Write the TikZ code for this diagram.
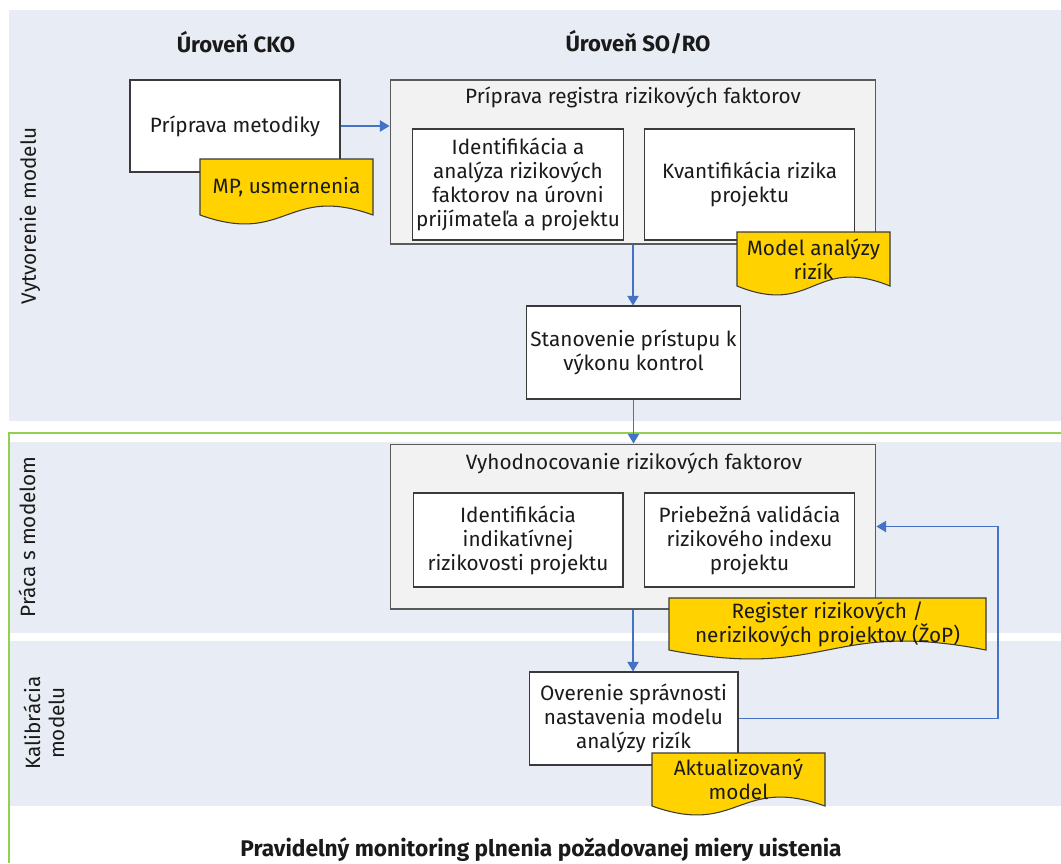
\documentclass[tikz,border=0pt]{standalone}
\usepackage{fontspec}
\setmainfont{Fira Sans}
\usetikzlibrary{arrows.meta}

% document shape: name, x1, y1, x2, y2, text
\newcommand{\dokument}[6]{%
    \pgfmathsetmacro{\xm}{(#2+#4)/2}%
    \pgfmathsetmacro{\yb}{#5-9}%
    \filldraw[doc] (#2,#3) -- (#4,#3) -- (#4,\yb)
        .. controls (\xm,\yb-31) and (\xm,\yb+31) .. (#2,\yb) -- cycle;
    \node[doctext] (#1) at (\xm,{(#3+\yb)/2}) {#6};
}

\begin{document}
\begin{tikzpicture}[x=0.02cm, y=-0.02cm,
    %Option for nice arrows
    >={Triangle[width=6.5pt,length=5.5pt]}, %
    font=\fontsize{11.8}{13.7}\selectfont,
    band/.style={fill=bandblue, draw=none},
    box/.style={draw=boxgray, line width=0.6pt, fill=white, align=center,
        minimum width=4.2cm, inner sep=2pt, text=textblack},
    frame/.style={draw=framegray, line width=0.6pt, fill=framefill,
        minimum width=9.72cm},
    doc/.style={fill=docyellow, draw=boxgray, line width=0.6pt},
    doctext/.style={align=center, text=textblack, inner sep=1pt},
    flow/.style={->, draw=flowblue, line width=0.6pt},
    lane/.style={rotate=90, align=center, text=textblack},
    head/.style={font=\fontsize{12.6}{15}\selectfont\bfseries, text=textblack},
]
    % Colors
    \definecolor{bandblue}{HTML}{E8ECF4}
    \definecolor{docyellow}{HTML}{FFD200}
    \definecolor{framefill}{HTML}{F2F2F2}
    \definecolor{framegray}{HTML}{5A5A5A}
    \definecolor{boxgray}{HTML}{3A3A3A}
    \definecolor{flowblue}{HTML}{4472C4}
    \definecolor{greenline}{HTML}{92D050}
    \definecolor{textblack}{HTML}{1A1A1A}

    \useasboundingbox (0,0) rectangle (1061,863);

    % Bands
    \fill[band] (9,10)  rectangle (1061,421);
    \fill[band] (9,442) rectangle (1061,633);
    \fill[band] (9,641) rectangle (1061,806);
    \draw[greenline, line width=1.5pt] (1061,433) -- (9,433) -- (9,863);

    % Lane labels
    \node[lane] (lane1) at (30,216) {Vytvorenie modelu};
    \node[lane] (lane2) at (27,537) {Práca s modelom};
    \node[lane] (lane3) at (44,723) {Kalibrácia\\modelu};

    % Headers
    \node[head] (cko)  at (236,42) {Úroveň CKO};
    \node[head] (soro) at (638,42) {Úroveň SO/RO};

    % Level CKO
    \node[box, minimum height=1.84cm] (metodika) at (235,126) {Príprava metodiky};
    \dokument{mp}{200}{159}{373}{224}{MP, usmernenia}

    % Register preparation
    \node[frame, minimum height=3.28cm] (registra) at (633,162) {};
    \node[text=textblack] (registratitle) at (633,97) {Príprava registra rizikových faktorov};
    \node[box, minimum height=2.22cm] (identifikacia) at (518,184.5)
        {Identifikácia a\\analýza rizikových\\faktorov na úrovni\\prijímateľa a projektu};
    \node[box, minimum height=2.22cm] (kvantifikacia) at (749.5,184.5)
        {Kvantifikácia rizika\\projektu};
    \dokument{model}{737}{232}{890}{295}{Model analýzy\\rizík}

    \node[box, minimum width=4.18cm, minimum height=1.86cm] (stanovenie) at (633.5,352.5)
        {Stanovenie prístupu k\\výkonu kontrol};

    % Evaluation
    \node[frame, minimum height=3.3cm] (vyhod) at (633,526.5) {};
    \node[text=textblack] (vyhodtitle) at (634,463) {Vyhodnocovanie rizikových faktorov};
    \node[box, minimum height=1.88cm] (indikativna) at (518,540)
        {Identifikácia\\indikatívnej\\rizikovosti projektu};
    \node[box, minimum height=1.88cm] (validacia) at (749.5,540)
        {Priebežná validácia\\rizikového indexu\\projektu};
    \dokument{register}{669}{598}{986}{659}{Register rizikových /\\nerizikových projektov (ŽoP)}

    % Calibration
    \node[box, minimum width=4.18cm, minimum height=1.86cm] (overenie) at (633.5,718.5)
        {Overenie správnosti\\nastavenia modelu\\analýzy rizík};
    \dokument{aktual}{652}{753}{825}{815}{Aktualizovaný\\model}

    % Flows
    \draw[flow] (metodika.east) -- (metodika.east -| registra.west);
    \draw[flow] (registra.south) -- (registra.south |- stanovenie.north);
    \draw[flow] (stanovenie.south) -- (stanovenie.south |- vyhod.north);
    \draw[flow] (vyhod.south) -- (vyhod.south |- overenie.north);
    \coordinate (back) at (998,718.5);
    \draw[flow] (overenie.east) -- (back) |- (vyhod.east);

    % Footer
    \node[font=\fontsize{12.9}{15}\selectfont\bfseries, text=textblack, inner sep=1pt] (monitoring) at (541,850)
        {Pravidelný monitoring plnenia požadovanej miery uistenia};
\end{tikzpicture}
\end{document}
